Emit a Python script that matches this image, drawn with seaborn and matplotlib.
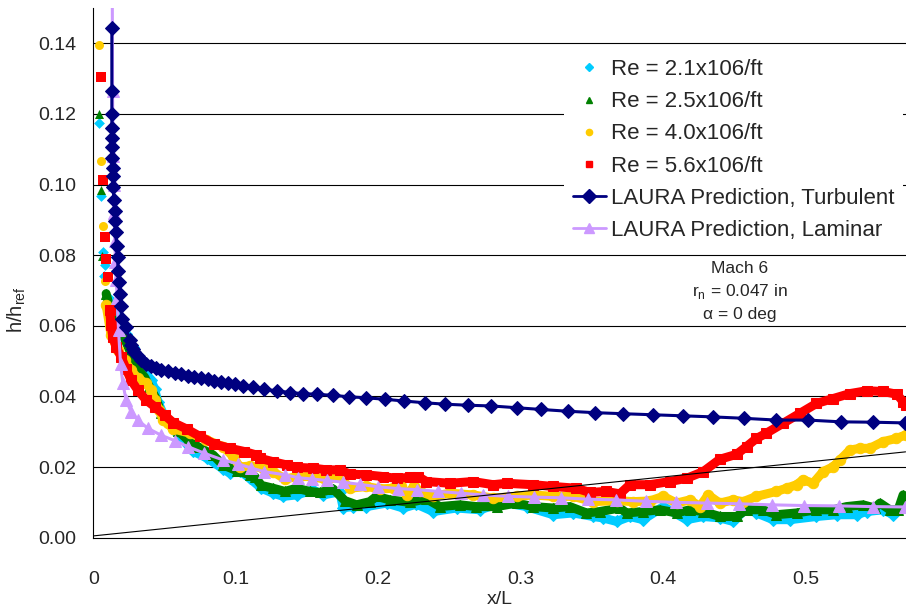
import matplotlib
matplotlib.use('Agg')
import matplotlib.pyplot as plt
from matplotlib.lines import Line2D
from matplotlib.ticker import MultipleLocator
import seaborn as sns

# ---- data ----
# sparse points right at the leading edge (markers only)
cyan_lead_x = [0.0043, 0.0055, 0.0067, 0.0074, 0.0079]
cyan_lead_y = [0.1173, 0.0968, 0.0808, 0.0742, 0.0771]
green_lead_x = [0.0043, 0.0055, 0.0062]
green_lead_y = [0.1199, 0.0985, 0.0799]
yellow_lead_x = [0.0043, 0.0055, 0.0067, 0.0079]
yellow_lead_y = [0.1396, 0.1067, 0.0883, 0.0728]
red_lead_x = [0.0055, 0.0067, 0.0079, 0.0090, 0.0102]
red_lead_y = [0.1304, 0.1013, 0.0850, 0.0789, 0.0738]

# Re = 2.1x10^6/ft
cyan_x = [0.0114, 0.0149, 0.0184, 0.0230, 0.0277, 0.0312, 0.0359, 0.0406, 0.0430, 0.0453,
          0.0500, 0.0580, 0.0600, 0.0700, 0.0800, 0.0910, 0.0958, 0.1028, 0.1098, 0.1180,
          0.1262, 0.1332, 0.1426, 0.1542, 0.1613, 0.1730, 0.1753, 0.1823, 0.1917, 0.2058,
          0.2174, 0.2268, 0.2385, 0.2549, 0.2712, 0.2876, 0.3040, 0.3227, 0.3367, 0.3507,
          0.3575, 0.3672, 0.3765, 0.3858, 0.4000, 0.4163, 0.4280, 0.4396, 0.4490, 0.4584,
          0.4654, 0.4770, 0.4888, 0.5075, 0.5216, 0.5356, 0.5426, 0.5542, 0.5613, 0.5683]
cyan_y = [0.0672, 0.0639, 0.0610, 0.0578, 0.0540, 0.0498, 0.0469, 0.0446, 0.0420, 0.0385,
          0.0342, 0.0300, 0.0290, 0.0245, 0.0225, 0.0195, 0.0183, 0.0190, 0.0168, 0.0140,
          0.0126, 0.0117, 0.0121, 0.0135, 0.0121, 0.0130, 0.0085, 0.0088, 0.0088, 0.0098,
          0.0084, 0.0095, 0.0074, 0.0084, 0.0079, 0.0100, 0.0088, 0.0065, 0.0070, 0.0060,
          0.0056, 0.0046, 0.0060, 0.0051, 0.0088, 0.0051, 0.0060, 0.0056, 0.0046, 0.0084,
          0.0070, 0.0051, 0.0051, 0.0060, 0.0065, 0.0065, 0.0074, 0.0079, 0.0065, 0.0088]

# Re = 2.5x10^6/ft
green_x = [0.0090, 0.0114, 0.0137, 0.0172, 0.0219, 0.0265, 0.0300, 0.0359, 0.0394, 0.0441,
           0.0476, 0.0523, 0.0593, 0.0663, 0.0733, 0.0841, 0.0910, 0.1005, 0.1098, 0.1133,
           0.1180, 0.1262, 0.1344, 0.1426, 0.1519, 0.1590, 0.1683, 0.1765, 0.1847, 0.1940,
           0.1987, 0.2081, 0.2221, 0.2338, 0.2432, 0.2572, 0.2689, 0.2830, 0.2970, 0.3086,
           0.3227, 0.3344, 0.3461, 0.3554, 0.3695, 0.3742, 0.3858, 0.3975, 0.4093, 0.4186,
           0.4280, 0.4396, 0.4514, 0.4584, 0.4700, 0.4794, 0.4935, 0.5075, 0.5192, 0.5286,
           0.5402, 0.5484, 0.5520, 0.5590, 0.5648, 0.5683, 0.5700]
green_y = [0.0691, 0.0653, 0.0615, 0.0587, 0.0564, 0.0521, 0.0483, 0.0455, 0.0427, 0.0394,
           0.0352, 0.0333, 0.0303, 0.0277, 0.0258, 0.0234, 0.0206, 0.0190, 0.0178, 0.0173,
           0.0148, 0.0140, 0.0131, 0.0140, 0.0131, 0.0128, 0.0138, 0.0105, 0.0093, 0.0102,
           0.0117, 0.0107, 0.0100, 0.0110, 0.0088, 0.0093, 0.0088, 0.0088, 0.0098, 0.0088,
           0.0084, 0.0088, 0.0070, 0.0074, 0.0084, 0.0070, 0.0074, 0.0079, 0.0070, 0.0079,
           0.0074, 0.0060, 0.0060, 0.0079, 0.0079, 0.0065, 0.0070, 0.0079, 0.0079, 0.0088,
           0.0093, 0.0084, 0.0098, 0.0079, 0.0079, 0.0121, 0.0110]

# Re = 4.0x10^6/ft
yellow_x = [0.0090, 0.0125, 0.0172, 0.0219, 0.0265, 0.0312, 0.0370, 0.0406, 0.0430, 0.0464,
            0.0488, 0.0523, 0.0560, 0.0677, 0.0794, 0.0910, 0.0981, 0.1028, 0.1100, 0.1192,
            0.1262, 0.1344, 0.1426, 0.1542, 0.1636, 0.1730, 0.1800, 0.1917, 0.2010, 0.2104,
            0.2160, 0.2200, 0.2250, 0.2291, 0.2385, 0.2502, 0.2665, 0.2806, 0.2970, 0.3086,
            0.3227, 0.3367, 0.3507, 0.3672, 0.3788, 0.3905, 0.4000, 0.4093, 0.4186, 0.4256,
            0.4315, 0.4396, 0.4490, 0.4560, 0.4654, 0.4794, 0.4865, 0.4935, 0.4981, 0.5051,
            0.5121, 0.5192, 0.5239, 0.5309, 0.5379, 0.5449, 0.5542, 0.5636, 0.5700]
yellow_y = [0.0658, 0.0573, 0.0531, 0.0502, 0.0474, 0.0451, 0.0437, 0.0418, 0.0390, 0.0361,
            0.0333, 0.0324, 0.0308, 0.0296, 0.0277, 0.0258, 0.0230, 0.0200, 0.0203, 0.0197,
            0.0187, 0.0166, 0.0173, 0.0173, 0.0164, 0.0173, 0.0140, 0.0145, 0.0138, 0.0140,
            0.0145, 0.0122, 0.0145, 0.0131, 0.0117, 0.0126, 0.0121, 0.0112, 0.0117, 0.0121,
            0.0117, 0.0117, 0.0102, 0.0105, 0.0102, 0.0104, 0.0117, 0.0098, 0.0107, 0.0088,
            0.0121, 0.0098, 0.0107, 0.0102, 0.0117, 0.0131, 0.0140, 0.0150, 0.0164, 0.0154,
            0.0187, 0.0201, 0.0220, 0.0248, 0.0253, 0.0253, 0.0272, 0.0281, 0.0291]

# Re = 5.6x10^6/ft
red_x = [0.0114, 0.0125, 0.0137, 0.0160, 0.0195, 0.0230, 0.0265, 0.0312, 0.0370, 0.0430,
         0.0500, 0.0560, 0.0654, 0.0747, 0.0850, 0.0960, 0.1060, 0.1145, 0.1168, 0.1262,
         0.1356, 0.1426, 0.1542, 0.1636, 0.1730, 0.1800, 0.1917, 0.2034, 0.2128, 0.2221,
         0.2280, 0.2338, 0.2502, 0.2665, 0.2806, 0.2900, 0.3086, 0.3227, 0.3390, 0.3484,
         0.3600, 0.3695, 0.3765, 0.3905, 0.4046, 0.4163, 0.4280, 0.4396, 0.4514, 0.4584,
         0.4654, 0.4724, 0.4841, 0.4958, 0.5075, 0.5192, 0.5309, 0.5426, 0.5542, 0.5640,
         0.5683, 0.5700]
red_y = [0.0644, 0.0601, 0.0568, 0.0540, 0.0512, 0.0478, 0.0446, 0.0418, 0.0390, 0.0371,
         0.0347, 0.0326, 0.0308, 0.0287, 0.0265, 0.0253, 0.0244, 0.0234, 0.0225, 0.0215,
         0.0206, 0.0199, 0.0197, 0.0192, 0.0192, 0.0180, 0.0178, 0.0173, 0.0168, 0.0171,
         0.0173, 0.0159, 0.0154, 0.0159, 0.0150, 0.0154, 0.0150, 0.0145, 0.0140, 0.0128,
         0.0131, 0.0124, 0.0150, 0.0150, 0.0159, 0.0168, 0.0187, 0.0222, 0.0236, 0.0258,
         0.0281, 0.0296, 0.0324, 0.0352, 0.0380, 0.0394, 0.0408, 0.0416, 0.0414, 0.0406,
         0.0385, 0.0375]

# LAURA predictions
turb_x = [0.0130, 0.0130, 0.0130, 0.0130, 0.0130, 0.0130, 0.0133, 0.0137, 0.0140, 0.0140,
          0.0144, 0.0151, 0.0151, 0.0156, 0.0163, 0.0170, 0.0174, 0.0179, 0.0186, 0.0195,
          0.0202, 0.0230, 0.0254, 0.0265, 0.0277, 0.0289, 0.0312, 0.0336, 0.0371, 0.0406,
          0.0441, 0.0476, 0.0523, 0.0570, 0.0616, 0.0663, 0.0710, 0.0757, 0.0804, 0.0850,
          0.0897, 0.0944, 0.0991, 0.1049, 0.1120, 0.1200, 0.1286, 0.1380, 0.1470, 0.1570,
          0.1680, 0.1795, 0.1917, 0.2046, 0.2180, 0.2326, 0.2467, 0.2630, 0.2794, 0.2970,
          0.3145, 0.3330, 0.3520, 0.3720, 0.3930, 0.4140, 0.4350, 0.4567, 0.4794, 0.5016,
          0.5246, 0.5470, 0.5695]
turb_y = [0.1443, 0.1264, 0.1199, 0.1159, 0.1131, 0.1105, 0.1076, 0.1048, 0.1023, 0.0992,
          0.0957, 0.0926, 0.0898, 0.0865, 0.0827, 0.0794, 0.0756, 0.0723, 0.0691, 0.0655,
          0.0620, 0.0596, 0.0559, 0.0545, 0.0535, 0.0526, 0.0514, 0.0502, 0.0493, 0.0485,
          0.0481, 0.0476, 0.0472, 0.0467, 0.0463, 0.0458, 0.0455, 0.0452, 0.0448, 0.0444,
          0.0441, 0.0438, 0.0435, 0.0429, 0.0426, 0.0420, 0.0416, 0.0411, 0.0408, 0.0406,
          0.0403, 0.0399, 0.0396, 0.0392, 0.0387, 0.0382, 0.0378, 0.0375, 0.0373, 0.0368,
          0.0363, 0.0358, 0.0354, 0.0351, 0.0348, 0.0345, 0.0342, 0.0338, 0.0333, 0.0333,
          0.0328, 0.0327, 0.0325]

lam_x = [0.0132, 0.0135, 0.0139, 0.0142, 0.0146, 0.0151, 0.0155, 0.0160, 0.0167, 0.0177,
         0.0191, 0.0207, 0.0230, 0.0265, 0.0312, 0.0382, 0.0476, 0.0570, 0.0663, 0.0780,
         0.0910, 0.1016, 0.1110, 0.1200, 0.1344, 0.1437, 0.1538, 0.1640, 0.1753, 0.1870,
         0.2000, 0.2139, 0.2275, 0.2420, 0.2577, 0.2735, 0.2910, 0.3090, 0.3280, 0.3470,
         0.3670, 0.3880, 0.4090, 0.4310, 0.4530, 0.4760, 0.4990, 0.5230, 0.5470, 0.5695]
lam_y = [0.1700, 0.1264, 0.1081, 0.1000, 0.0920, 0.0840, 0.0780, 0.0730, 0.0680, 0.0587,
         0.0493, 0.0437, 0.0390, 0.0356, 0.0333, 0.0310, 0.0290, 0.0275, 0.0258, 0.0239,
         0.0220, 0.0209, 0.0197, 0.0187, 0.0178, 0.0170, 0.0166, 0.0162, 0.0157, 0.0151,
         0.0144, 0.0139, 0.0136, 0.0131, 0.0126, 0.0121, 0.0117, 0.0115, 0.0113, 0.0109,
         0.0107, 0.0103, 0.0100, 0.0098, 0.0096, 0.0093, 0.0091, 0.0090, 0.0088, 0.0087]

# thin reference line
ref_x = [0.0, 0.57]
ref_y = [0.0005, 0.0243]

labels = ['Re = 2.1x106/ft', 'Re = 2.5x106/ft', 'Re = 4.0x106/ft', 'Re = 5.6x106/ft',
          'LAURA Prediction, Turbulent', 'LAURA Prediction, Laminar']
x_ticks = [0, 0.1, 0.2, 0.3, 0.4, 0.5]
x_tick_labels = ['0', '0.1', '0.2', '0.3', '0.4', '0.5']
y_ticks = [0.0, 0.02, 0.04, 0.06, 0.08, 0.10, 0.12, 0.14]
y_tick_labels = ['0.00', '0.02', '0.04', '0.06', '0.08', '0.10', '0.12', '0.14']

CYAN = '#00CCFF'
GREEN = '#008000'
GOLD = '#FFCC00'
RED = '#FF0000'
NAVY = '#000080'
LAV = '#CC99FF'

sns.set_style('white')
plt.rcParams['font.family'] = ['Liberation Sans', 'DejaVu Sans']
plt.rcParams['mathtext.fontset'] = 'custom'
plt.rcParams['mathtext.rm'] = 'Liberation Sans'

fig, ax = plt.subplots(figsize=(9.06, 6.11), dpi=100)
fig.subplots_adjust(left=0.103, right=0.9995, bottom=0.12, top=0.987)

# horizontal grid
for yv in y_ticks[1:]:
    ax.axhline(yv, color='black', lw=0.8, zorder=0)

# experimental data: sparse leading-edge points + dense band
exp_sets = [
    (cyan_lead_x, cyan_lead_y, cyan_x, cyan_y, CYAN, 'D', 5.5),
    (green_lead_x, green_lead_y, green_x, green_y, GREEN, '^', 6.5),
    (yellow_lead_x, yellow_lead_y, yellow_x, yellow_y, GOLD, 'o', 6.5),
    (red_lead_x, red_lead_y, red_x, red_y, RED, 's', 6.5),
]
for lx, ly, bx, by, col, mk, ms in exp_sets:
    sns.scatterplot(x=lx, y=ly, color=col, marker=mk, s=ms ** 2, linewidth=0, ax=ax, zorder=3)
    sns.lineplot(x=bx, y=by, color=col, lw=6.5, marker=mk, markersize=ms + 1, markeredgecolor=col,
                 sort=False, estimator=None, ax=ax, zorder=3)

sns.lineplot(x=lam_x, y=lam_y, color=LAV, lw=2.2, marker='^', markersize=8,
             markeredgecolor=LAV, sort=False, estimator=None, ax=ax, zorder=4)
sns.lineplot(x=turb_x, y=turb_y, color=NAVY, lw=2.2, marker='D', markersize=7,
             markeredgecolor=NAVY, sort=False, estimator=None, ax=ax, zorder=5)
sns.lineplot(x=ref_x, y=ref_y, color='black', lw=0.8, sort=False, estimator=None, ax=ax, zorder=6)

ax.set_xlim(0, 0.57)
ax.set_ylim(0, 0.15)
ax.set_xticks(x_ticks)
ax.set_xticklabels(x_tick_labels)
ax.set_yticks(y_ticks)
ax.set_yticklabels(y_tick_labels)
ax.xaxis.set_minor_locator(MultipleLocator(0.02))
ax.yaxis.set_minor_locator(MultipleLocator(0.004))
ax.tick_params(which='major', direction='inout', length=8, width=0.8, labelsize=14, color='black')
ax.tick_params(which='minor', direction='in', length=4, width=0.8, color='black')
ax.tick_params(axis='x', which='major', pad=20)
ax.tick_params(axis='y', which='major', pad=8)
for s in ['top', 'right']:
    ax.spines[s].set_visible(False)
for s in ['left', 'bottom']:
    ax.spines[s].set_color('black')
    ax.spines[s].set_linewidth(0.8)

ax.set_xlabel('x/L', fontsize=14, labelpad=2)
ax.set_ylabel('h/h$_{\\mathregular{ref}}$', fontsize=14.5)
ax.yaxis.set_label_coords(-0.081, 0.43)

ax.text(0.4537, 0.0697, 'Mach 6\nr$_{\\mathregular{n}}$ = 0.047 in\n\u03b1 = 0 deg',
        ha='center', va='center', fontsize=12.5, linespacing=1.45)

handles = [
    Line2D([], [], ls='none', marker='D', color=CYAN, markersize=4),
    Line2D([], [], ls='none', marker='^', color=GREEN, markersize=4.5),
    Line2D([], [], ls='none', marker='o', color=GOLD, markersize=4.5),
    Line2D([], [], ls='none', marker='s', color=RED, markersize=4.5),
    Line2D([], [], color=NAVY, lw=2, marker='D', markersize=7),
    Line2D([], [], color=LAV, lw=2, marker='^', markersize=7),
]
leg = ax.legend(handles, labels, loc='upper left', bbox_to_anchor=(0.58, 0.92),
                fontsize=16, frameon=True, facecolor='white', edgecolor='none', framealpha=1,
                handlelength=1.45, handletextpad=0.25, labelspacing=0.5, borderpad=0.4,
                borderaxespad=0)
leg.set_zorder(10)

fig.savefig('out.png', dpi=100)
